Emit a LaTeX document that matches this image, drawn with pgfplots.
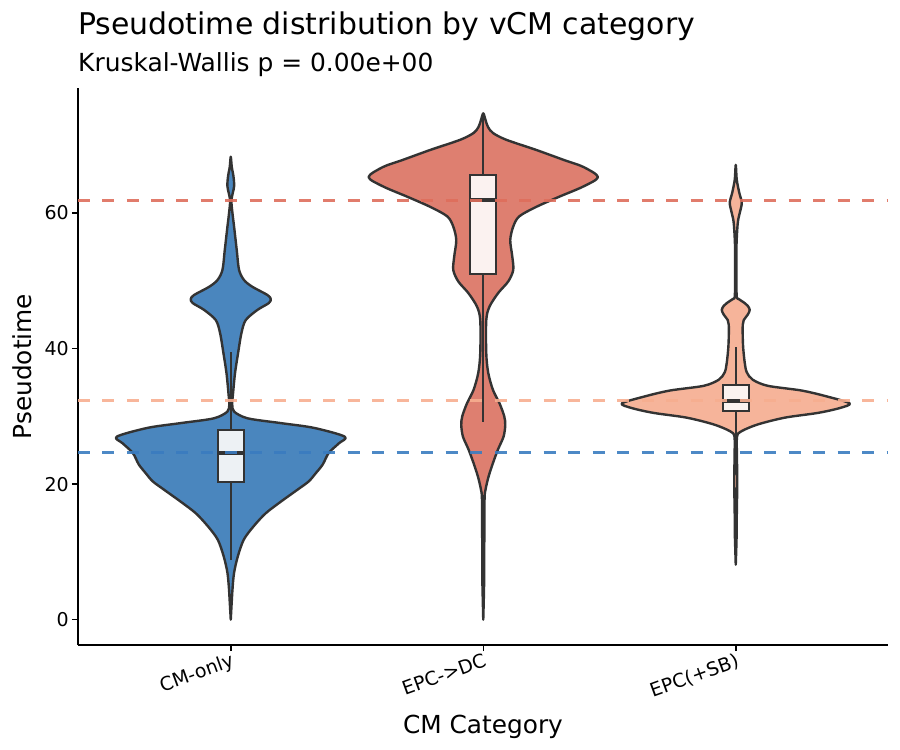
\documentclass[border=0pt]{standalone}
\usepackage{fontspec}
\setmainfont{DejaVu Sans}
\usepackage{pgfplots}
\pgfplotsset{compat=1.18}
\usepackage{pgfplotstable}

\definecolor{cA}{HTML}{4A86BE}
\definecolor{cB}{HTML}{DE7F70}
\definecolor{cC}{HTML}{F6B49A}
\definecolor{lA}{HTML}{3A7CC0}
\definecolor{lB}{HTML}{DE6E5C}
\definecolor{lC}{HTML}{F7AE90}
\definecolor{bA}{HTML}{EDF1F4}
\definecolor{bB}{HTML}{FBF2F0}
\definecolor{bC}{HTML}{FBF3F0}
\definecolor{dk}{HTML}{333333}

% violin outlines: pseudotime y, signed half-width w (right side up, left side down)
\pgfplotstableread{
y w
0 0
4.4 0.0067
6.9 0.0131
9.3 0.0277
11.8 0.0515
13.8 0.0911
15.7 0.1386
17.4 0.198
19.2 0.2653
20.4 0.3089
21.6 0.3366
22.9 0.3644
24.6 0.3881
26.0 0.4277
27.0 0.4515
28.3 0.3287
29.0 0.198
29.7 0.0673
30.7 0.0131
31.8 0.0059
33.4 0.0091
36.4 0.017
39.3 0.0289
42.3 0.0424
44.2 0.0594
45.7 0.1057
46.7 0.1505
47.3 0.1584
47.9 0.1453
49.1 0.0859
50.1 0.0527
51.6 0.0329
54.5 0.0238
58.0 0.0131
60.0 0.0067
61.9 0.0028
63.9 0.0131
65.4 0.0107
66.8 0.004
68.3 0
66.8 -0.004
65.4 -0.0107
63.9 -0.0131
61.9 -0.0028
60.0 -0.0067
58.0 -0.0131
54.5 -0.0238
51.6 -0.0329
50.1 -0.0527
49.1 -0.0859
47.9 -0.1453
47.3 -0.1584
46.7 -0.1505
45.7 -0.1057
44.2 -0.0594
42.3 -0.0424
39.3 -0.0289
36.4 -0.017
33.4 -0.0091
31.8 -0.0059
30.7 -0.0131
29.7 -0.0673
29.0 -0.198
28.3 -0.3287
27.0 -0.4515
26.0 -0.4277
24.6 -0.3881
22.9 -0.3644
21.6 -0.3366
20.4 -0.3089
19.2 -0.2653
17.4 -0.198
15.7 -0.1386
13.8 -0.0911
11.8 -0.0515
9.3 -0.0277
6.9 -0.0131
4.4 -0.0067
}\violinA

\pgfplotstableread{
y w
0 0
5 0.0032
10.3 0.004
17.7 0.0051
19.2 0.0091
21.1 0.021
23.1 0.0384
25.1 0.0582
27.0 0.0804
28.7 0.0871
30.0 0.0832
31.9 0.0646
33.9 0.0384
36.4 0.0198
39.3 0.0119
44.2 0.0119
46.2 0.025
48.2 0.0594
49.9 0.099
51.6 0.1188
53.6 0.1149
56.0 0.1069
58.0 0.1188
59.5 0.1426
60.9 0.2099
62.4 0.301
63.9 0.396
65.3 0.4543
66.8 0.396
67.8 0.3208
69.3 0.2099
70.8 0.0911
71.8 0.0384
72.7 0.0186
73.7 0.0091
74.7 0
73.7 -0.0091
72.7 -0.0186
71.8 -0.0384
70.8 -0.0911
69.3 -0.2099
67.8 -0.3208
66.8 -0.396
65.3 -0.4543
63.9 -0.396
62.4 -0.301
60.9 -0.2099
59.5 -0.1426
58.0 -0.1188
56.0 -0.1069
53.6 -0.1149
51.6 -0.1188
49.9 -0.099
48.2 -0.0594
46.2 -0.025
44.2 -0.0119
39.3 -0.0119
36.4 -0.0198
33.9 -0.0384
31.9 -0.0646
30.0 -0.0832
28.7 -0.0871
27.0 -0.0804
25.1 -0.0582
23.1 -0.0384
21.1 -0.021
19.2 -0.0091
17.7 -0.0051
10.3 -0.004
5 -0.0032
}\violinB

\pgfplotstableread{
y w
8.1 0
12 0.0032
15.2 0.004
20.2 0.0059
24 0.0048
27.0 0.0051
27.8 0.0226
28.8 0.0871
29.8 0.1941
30.5 0.3248
31.2 0.41
31.9 0.4515
32.9 0.364
33.8 0.2614
34.5 0.1267
35.4 0.0673
36.5 0.0436
37.9 0.0356
40 0.0297
41.7 0.0277
43.5 0.0277
44.2 0.0317
45.0 0.0475
45.7 0.0554
46.3 0.0475
46.7 0.0356
47.3 0.0119
47.6 0.004
50 0.0028
55 0.0028
58.5 0.0079
60 0.0158
61.5 0.0238
63 0.0139
64.9 0.004
67.1 0
64.9 -0.004
63 -0.0139
61.5 -0.0238
60 -0.0158
58.5 -0.0079
55 -0.0028
50 -0.0028
47.6 -0.004
47.3 -0.0119
46.7 -0.0356
46.3 -0.0475
45.7 -0.0554
45.0 -0.0475
44.2 -0.0317
43.5 -0.0277
41.7 -0.0277
40 -0.0297
37.9 -0.0356
36.5 -0.0436
35.4 -0.0673
34.5 -0.1267
33.8 -0.2614
32.9 -0.364
31.9 -0.4515
31.2 -0.41
30.5 -0.3248
29.8 -0.1941
28.8 -0.0871
27.8 -0.0226
27.0 -0.0051
24 -0.0048
20.2 -0.0059
15.2 -0.004
12 -0.0032
}\violinC

\begin{document}
\begin{tikzpicture}
\begin{axis}[
  width=810bp, height=557bp, scale only axis,
  xmin=-0.605, xmax=2.603, ymin=-3.74, ymax=78.44,
  axis lines*=left,
  axis line style={line width=2bp, black},
  xtick={0,1,2}, xticklabels={CM-only, EPC->DC, EPC(+SB)},
  ytick={0,20,40,60},
  tick align=outside, major tick length=6bp,
  tick style={line width=1.5bp, black},
  ticklabel style={font=\fontsize{19bp}{23bp}\selectfont},
  xticklabel style={rotate=20, anchor=north east, inner sep=1bp},
  yticklabel style={inner sep=3bp},
  /pgf/number format/assume math mode=true,
  violin/.style={draw=dk, line width=2.4bp, line join=round, smooth, tension=0.5},
  box/.style={draw=dk, line width=2.4bp, line join=miter},
]
% --- violins
\addplot[violin, fill=cA] table[x expr=0+\thisrow{w}, y=y] {\violinA} -- cycle;
\addplot[violin, fill=cB] table[x expr=1+\thisrow{w}, y=y] {\violinB} -- cycle;
\addplot[violin, fill=cC] table[x expr=2+\thisrow{w}, y=y] {\violinC} -- cycle;
% --- whiskers
\addplot[dk, line width=2.4bp] coordinates {(0,8.8) (0,20.3)};
\addplot[dk, line width=2.4bp] coordinates {(0,28.0) (0,39.5)};
\addplot[dk, line width=2.4bp] coordinates {(1,29.2) (1,51.0)};
\addplot[dk, line width=2.4bp] coordinates {(1,65.6) (1,74.7)};
\addplot[dk, line width=2.4bp] coordinates {(2,25.1) (2,30.8)};
\addplot[dk, line width=2.4bp] coordinates {(2,34.6) (2,40.2)};
% --- boxes (quartiles)
\addplot[box, fill=bA] coordinates {(-0.0515,20.3) (0.0515,20.3) (0.0515,28.0) (-0.0515,28.0)} -- cycle;
\addplot[box, fill=bB] coordinates {(0.9485,51.0) (1.0515,51.0) (1.0515,65.6) (0.9485,65.6)} -- cycle;
\addplot[box, fill=bC] coordinates {(1.9485,30.8) (2.0515,30.8) (2.0515,34.6) (1.9485,34.6)} -- cycle;
% --- medians
\addplot[dk, line width=4bp] coordinates {(-0.0515,24.6) (0.0515,24.6)};
\addplot[dk, line width=4bp] coordinates {(0.9485,61.9) (1.0515,61.9)};
\addplot[dk, line width=4bp] coordinates {(1.9485,32.3) (2.0515,32.3)};
% --- median reference lines
\addplot[lB, line width=3bp, dash pattern=on 12bp off 12.5bp, opacity=0.9] coordinates {(-0.605,61.9) (2.603,61.9)};
\addplot[lC, line width=3bp, dash pattern=on 12bp off 12.5bp, opacity=0.9] coordinates {(-0.605,32.3) (2.603,32.3)};
\addplot[lA, line width=3bp, dash pattern=on 12bp off 12.5bp, opacity=0.9] coordinates {(-0.605,24.6) (2.603,24.6)};
\end{axis}
\node[anchor=base west, inner sep=0pt, font=\fontsize{29.9bp}{36bp}\selectfont] at (0bp,610bp) {Pseudotime distribution by vCM category};
\node[anchor=base west, inner sep=0pt, font=\fontsize{24.9bp}{30bp}\selectfont] at (0bp,573bp) {Kruskal-Wallis p = 0.00e+00};
\node[anchor=base, inner sep=0pt, font=\fontsize{24.8bp}{30bp}\selectfont] at (405bp,-88bp) {CM Category};
\node[rotate=90, anchor=center, inner sep=0pt, font=\fontsize{24.8bp}{30bp}\selectfont] at (-56bp,278.5bp) {Pseudotime};
\pgfresetboundingbox
\path[use as bounding box] (-78bp,-105bp) rectangle (822bp,645bp);
\end{tikzpicture}
\end{document}
